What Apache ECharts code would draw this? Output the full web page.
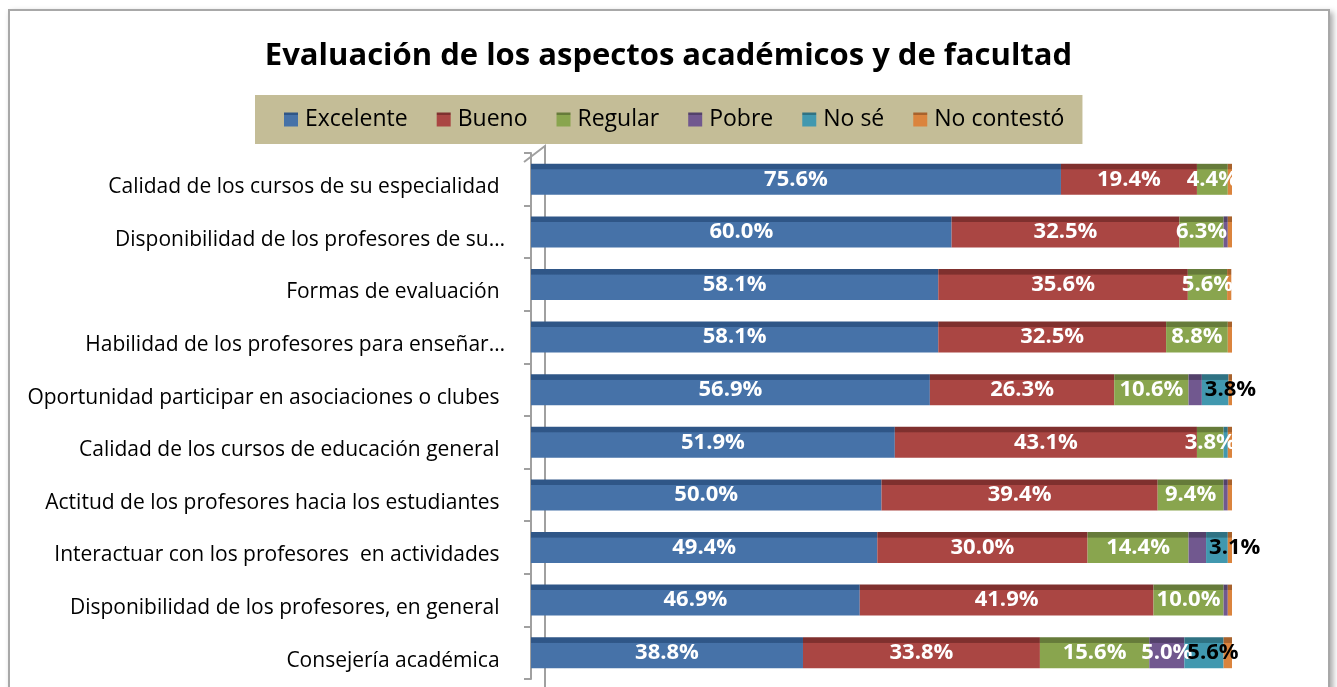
<!DOCTYPE html>
<html>
<head>
<meta charset="utf-8">
<script src="https://cdn.jsdelivr.net/npm/echarts@6/dist/echarts.min.js"></script>
<style>
  html, body { margin: 0; padding: 0; background: #fff; overflow: hidden; }
  .frame {
    position: absolute; left: 8px; top: 9px; width: 1318px; height: 700px;
    border: 2px solid #a8a8a8; box-shadow: 3px 3px 6px rgba(0,0,0,0.35);
    background: #fff;
  }
  #chart { position: absolute; left: 0; top: 0; width: 1337px; height: 687px; }
</style>
</head>
<body>
<div class="frame"></div>
<div id="chart"></div>
<script>
const categories = [
  'Calidad de los cursos de su especialidad ',
  'Disponibilidad de los profesores de su…',
  'Formas de evaluación ',
  'Habilidad de los profesores para enseñar…',
  'Oportunidad participar en asociaciones o clubes ',
  'Calidad de los cursos de educación general ',
  'Actitud de los profesores hacia los estudiantes ',
  'Interactuar con los profesores  en actividades ',
  'Disponibilidad de los profesores, en general ',
  'Consejería académica '
]
const excelente = [75.6, 60.0, 58.1, 58.1, 56.9, 51.9, 50.0, 49.4, 46.9, 38.8]
const bueno = [19.4, 32.5, 35.6, 32.5, 26.3, 43.1, 39.4, 30.0, 41.9, 33.8]
const regular = [4.4, 6.3, 5.6, 8.8, 10.6, 3.8, 9.4, 14.4, 10.0, 15.6]
const pobre = [0, 0.6, 0, 0, 1.9, 0, 0.6, 2.5, 0.6, 5.0]
const noSe = [0, 0, 0, 0, 3.8, 0.6, 0, 3.1, 0, 5.6]
const noContesto = [0.6, 0.6, 0.6, 0.6, 0.6, 0.6, 0.6, 0.6, 0.6, 1.3]

const chart = echarts.init(document.getElementById('chart'))

// front colour + darker top strip to fake the 3D bar top
const face = (top, front) => new echarts.graphic.LinearGradient(0, 0, 0, 1, [
  { offset: 0, color: top },
  { offset: 0.17, color: top },
  { offset: 0.19, color: front },
  { offset: 1, color: front }
])

const makeSeries = (name, data, top, front, labelColor, labelPos) => ({
  name,
  type: 'bar',
  stack: 'total',
  data,
  barWidth: 31,
  itemStyle: { color: face(top, front) },
  label: {
    show: true,
    position: labelPos || 'inside',
    distance: 3,
    color: labelColor,
    fontFamily: 'Open Sans',
    fontWeight: 'bold',
    fontSize: 22,
    formatter: p => (p.value >= 3 ? p.value.toFixed(1) + '%' : '')
  }
})

const option = {
  title: {
    text: 'Evaluación de los aspectos académicos y de facultad',
    left: 'center',
    top: 36,
    textStyle: { fontFamily: 'Open Sans', fontWeight: 'bold', fontSize: 31, color: '#000' }
  },
  legend: {
    left: 255,
    top: 95,
    backgroundColor: '#c4bd97',
    padding: [13, 18, 13, 29],
    itemGap: 29,
    itemWidth: 14,
    itemHeight: 14,
    icon: 'rect',
    textStyle: { fontFamily: 'Open Sans', fontSize: 23, color: '#000', padding: [0, 0, 0, 2] },
    data: ['Excelente', 'Bueno', 'Regular', 'Pobre', 'No sé', 'No contestó']
  },
  grid: { left: 531, right: 105, top: 153, bottom: 8 },
  xAxis: { type: 'value', min: 0, max: 100, show: false },
  yAxis: {
    type: 'category',
    data: categories,
    inverse: true,
    offset: 7,
    axisLine: { lineStyle: { color: '#a0a0a0', width: 2 } },
    axisTick: { show: true, length: 7, lineStyle: { color: '#a0a0a0', width: 2 } },
    axisLabel: {
      fontFamily: 'Open Sans', fontSize: 21, color: '#000', margin: 19,
      verticalAlign: 'top', lineHeight: 16
    }
  },
  graphic: [
    {
      type: 'polyline',
      z: 0,
      shape: { points: [[524, 162], [545, 146], [545, 687]] },
      style: { stroke: '#a0a0a0', lineWidth: 2, fill: null }
    }
  ],
  series: [
    makeSeries('Excelente', excelente, '#2f5687', '#4672a8', '#fff'),
    makeSeries('Bueno', bueno, '#7f302e', '#aa4643', '#fff'),
    makeSeries('Regular', regular, '#667b3a', '#89a54e', '#fff'),
    makeSeries('Pobre', pobre, '#53416b', '#71588f', '#fff'),
    makeSeries('No sé', noSe, '#2f7283', '#4198af', '#000', 'insideLeft'),
    makeSeries('No contestó', noContesto, '#a8622c', '#db843d', '#fff')
  ]
}

chart.setOption(option)
</script>
</body>
</html>
